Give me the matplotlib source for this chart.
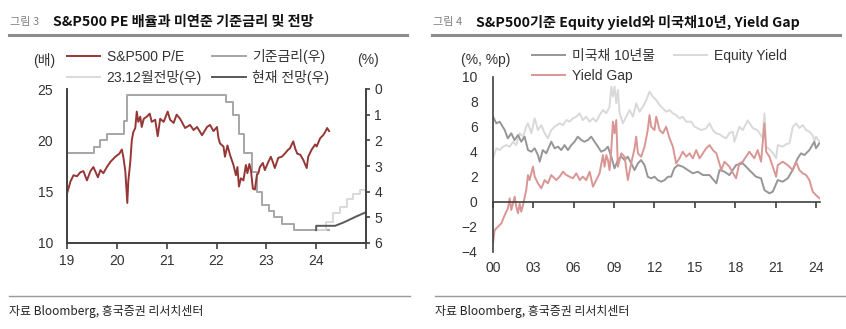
import matplotlib
matplotlib.use('Agg')
import matplotlib.pyplot as plt
from matplotlib.lines import Line2D

plt.rcParams['font.family'] = ['Liberation Sans', 'Noto Sans CJK KR']
plt.rcParams['axes.unicode_minus'] = True

# ---- left chart: S&P500 P/E vs fed funds (upper bound), decimal years ----
pe_x = [2019.00, 2019.07, 2019.13, 2019.20, 2019.27, 2019.33, 2019.40, 2019.47, 2019.53, 2019.62,
        2019.67, 2019.73, 2019.80, 2019.87, 2019.97, 2020.05, 2020.10, 2020.13, 2020.17, 2020.21,
        2020.23, 2020.27, 2020.30, 2020.33, 2020.37, 2020.40, 2020.43, 2020.47, 2020.50, 2020.54,
        2020.60, 2020.66, 2020.70, 2020.77, 2020.82, 2020.87, 2020.94, 2021.02, 2021.07, 2021.14,
        2021.20, 2021.27, 2021.37, 2021.47, 2021.54, 2021.61, 2021.71, 2021.81, 2021.87, 2021.94,
        2022.01, 2022.04, 2022.07, 2022.14, 2022.17, 2022.22, 2022.27, 2022.34, 2022.39, 2022.42,
        2022.45, 2022.49, 2022.54, 2022.59, 2022.62, 2022.66, 2022.69, 2022.73, 2022.77, 2022.81,
        2022.84, 2022.87, 2022.93, 2022.97, 2023.04, 2023.09, 2023.13, 2023.17, 2023.24, 2023.31,
        2023.37, 2023.44, 2023.47, 2023.54, 2023.58, 2023.62, 2023.68, 2023.74, 2023.81, 2023.84,
        2023.91, 2023.98, 2024.01, 2024.08, 2024.14, 2024.18, 2024.22, 2024.26]
pe_y = [14.8, 16.0, 16.6, 16.5, 16.9, 17.0, 16.1, 17.0, 17.4, 16.4,
        17.1, 16.8, 17.4, 17.9, 18.4, 18.7, 19.1, 18.4, 17.0, 13.9,
        16.0, 17.9, 20.0, 20.8, 21.2, 22.8, 21.8, 22.3, 21.3, 22.1,
        22.3, 22.6, 21.8, 22.0, 20.4, 22.1, 21.8, 22.8, 22.0, 21.7,
        22.5, 22.1, 21.2, 21.5, 21.0, 21.3, 20.5, 21.3, 21.5, 20.9,
        21.3, 20.2, 19.7, 19.4, 18.4, 19.5, 18.6, 17.6, 16.6, 17.4,
        15.5, 16.3, 16.1, 17.6, 16.8, 17.7, 17.1, 15.3, 15.2, 16.6,
        16.8, 17.4, 17.8, 17.1, 17.9, 18.4, 17.9, 17.3, 18.3, 18.4,
        18.7, 19.1, 19.2, 19.9, 19.2, 18.7, 18.6, 18.1, 17.3, 18.4,
        19.1, 19.6, 19.4, 20.2, 20.5, 20.8, 21.2, 20.9]

fed_x = [2019.00, 2019.55, 2019.67, 2019.81, 2020.15, 2020.20, 2022.19, 2022.34, 2022.46,
         2022.56, 2022.71, 2022.81, 2022.92, 2023.05, 2023.15, 2023.31, 2023.56, 2024.26]
fed_y = [2.50, 2.25, 2.00, 1.75, 1.25, 0.25, 0.50, 1.00, 1.75,
         2.50, 3.25, 4.00, 4.50, 4.75, 5.00, 5.25, 5.50, 5.50]

dec23_x = [2024.03, 2024.20, 2024.33, 2024.47, 2024.61, 2024.73, 2024.87, 2025.00]
dec23_y = [5.50, 5.20, 4.85, 4.60, 4.30, 4.10, 3.95, 3.80]

now_x = [2024.00, 2024.00, 2024.38, 2024.55, 2024.80, 2025.00]
now_y = [5.50, 5.33, 5.33, 5.20, 4.97, 4.80]

# ---- right chart: 10y UST, equity yield, yield gap ----
ust_x = [2000.00, 2000.25, 2000.50, 2000.87, 2001.10, 2001.36, 2001.60, 2001.86, 2002.10, 2002.35,
         2002.60, 2002.85, 2003.10, 2003.34, 2003.47, 2003.70, 2003.96, 2004.33, 2004.58, 2004.83,
         2005.07, 2005.32, 2005.57, 2005.82, 2006.06, 2006.30, 2006.56, 2006.80, 2007.05, 2007.30,
         2007.55, 2007.80, 2008.04, 2008.30, 2008.54, 2008.79, 2009.03, 2009.28, 2009.53, 2009.78,
         2010.02, 2010.27, 2010.52, 2010.77, 2011.00, 2011.26, 2011.50, 2011.75, 2012.00, 2012.25,
         2012.50, 2012.75, 2013.00, 2013.24, 2013.47, 2013.74, 2014.10, 2014.48, 2014.85, 2015.22,
         2015.60, 2016.09, 2016.60, 2016.83, 2017.20, 2017.57, 2018.06, 2018.56, 2019.05, 2019.54,
         2019.92, 2020.17, 2020.54, 2020.79, 2021.16, 2021.53, 2021.90, 2022.27, 2022.64, 2022.89,
         2023.14, 2023.51, 2023.88, 2024.00, 2024.25]
ust_y = [6.80, 6.27, 6.40, 5.73, 5.07, 5.47, 4.93, 5.33, 4.80, 5.20,
         4.13, 4.00, 4.27, 3.73, 3.20, 4.13, 3.87, 4.80, 4.27, 4.40,
         4.13, 4.53, 4.13, 4.53, 4.80, 5.20, 4.93, 4.80, 4.93, 5.20,
         4.80, 4.40, 4.00, 4.13, 4.40, 3.60, 2.67, 3.33, 3.60, 3.33,
         3.60, 3.07, 2.53, 3.07, 3.33, 2.93, 2.00, 1.87, 2.00, 1.73,
         1.60, 1.73, 2.00, 2.00, 2.67, 2.93, 2.80, 2.53, 2.27, 2.40,
         2.13, 2.13, 1.47, 2.53, 2.40, 2.13, 2.93, 3.07, 2.53, 2.00,
         1.87, 0.93, 0.67, 0.80, 1.73, 1.60, 1.87, 2.53, 3.47, 3.87,
         3.73, 4.13, 4.80, 4.27, 4.67]

ey_x = [2000.00, 2000.25, 2000.50, 2000.74, 2000.99, 2001.24, 2001.49, 2001.73, 2001.98, 2002.23,
        2002.47, 2002.60, 2002.85, 2003.10, 2003.34, 2003.59, 2003.84, 2004.08, 2004.33, 2004.58,
        2004.95, 2005.20, 2005.45, 2005.69, 2005.94, 2006.19, 2006.44, 2006.68, 2006.93, 2007.18,
        2007.43, 2007.67, 2007.92, 2008.17, 2008.42, 2008.66, 2008.79, 2008.91, 2009.03, 2009.16,
        2009.28, 2009.41, 2009.65, 2009.90, 2010.15, 2010.40, 2010.64, 2010.89, 2011.14, 2011.39,
        2011.63, 2011.88, 2012.13, 2012.38, 2012.62, 2012.87, 2013.12, 2013.37, 2013.61, 2013.86,
        2014.10, 2014.36, 2014.73, 2014.98, 2015.22, 2015.47, 2015.84, 2016.09, 2016.34, 2016.58,
        2016.83, 2017.08, 2017.33, 2017.57, 2017.82, 2017.94, 2018.31, 2018.56, 2018.93, 2019.30,
        2019.67, 2020.04, 2020.17, 2020.30, 2020.54, 2020.79, 2021.04, 2021.16, 2021.53, 2021.78,
        2022.03, 2022.28, 2022.52, 2022.77, 2023.02, 2023.27, 2023.51, 2023.76, 2023.89, 2024.00,
        2024.26]
ey_y = [3.47, 4.27, 4.13, 4.40, 4.53, 4.40, 4.80, 4.53, 5.47, 5.20,
        6.00, 6.27, 5.47, 6.67, 5.73, 6.13, 5.47, 5.07, 5.73, 6.00,
        6.27, 6.13, 6.53, 6.40, 6.67, 6.80, 7.07, 6.53, 6.80, 6.40,
        6.67, 6.40, 6.93, 7.33, 7.07, 7.60, 9.20, 8.40, 9.20, 7.87,
        8.93, 7.07, 6.27, 6.80, 7.33, 6.80, 7.87, 7.20, 7.60, 8.13,
        8.80, 8.40, 8.13, 7.73, 7.47, 7.20, 7.33, 7.07, 6.93, 6.67,
        6.80, 6.40, 6.40, 6.00, 5.87, 5.73, 5.87, 6.27, 5.73, 5.47,
        5.40, 5.20, 5.07, 5.50, 5.60, 4.80, 6.00, 5.73, 6.50, 5.90,
        5.70, 5.10, 7.07, 4.40, 4.20, 3.90, 3.47, 4.53, 4.40, 4.60,
        4.67, 6.00, 6.27, 5.90, 6.13, 5.73, 5.60, 5.30, 4.90, 5.20,
        4.80]

gap_x = [2000.00, 2000.12, 2000.37, 2000.62, 2000.87, 2001.11, 2001.24, 2001.36, 2001.61, 2001.73,
         2001.86, 2001.98, 2002.10, 2002.23, 2002.47, 2002.60, 2002.72, 2002.97, 2003.10, 2003.34,
         2003.59, 2003.84, 2004.08, 2004.33, 2004.70, 2004.95, 2005.20, 2005.45, 2005.69, 2005.94,
         2006.19, 2006.44, 2006.68, 2006.93, 2007.18, 2007.43, 2007.67, 2007.92, 2008.17, 2008.29,
         2008.42, 2008.54, 2008.66, 2008.79, 2008.91, 2009.03, 2009.16, 2009.28, 2009.53, 2009.78,
         2009.90, 2010.02, 2010.27, 2010.52, 2010.64, 2010.77, 2011.01, 2011.26, 2011.50, 2011.63,
         2011.75, 2012.00, 2012.13, 2012.38, 2012.62, 2012.87, 2013.12, 2013.37, 2013.61, 2013.86,
         2014.10, 2014.36, 2014.61, 2014.85, 2015.10, 2015.35, 2015.84, 2016.09, 2016.34, 2016.60,
         2016.97, 2017.20, 2017.57, 2018.06, 2018.31, 2018.56, 2018.80, 2019.05, 2019.42, 2019.67,
         2019.92, 2020.17, 2020.30, 2020.54, 2020.79, 2021.04, 2021.16, 2021.53, 2021.90, 2022.27,
         2022.52, 2022.77, 2023.02, 2023.27, 2023.51, 2023.76, 2024.00, 2024.13, 2024.26]
gap_y = [-3.33, -2.27, -2.00, -1.73, -1.07, -0.53, 0.27, -0.67, 0.40, -0.40,
         -0.93, -0.13, -0.80, -0.27, 0.93, 2.13, 1.73, 2.80, 2.00, 1.47,
         1.07, 1.73, 1.47, 2.13, 1.73, 2.00, 2.40, 2.13, 2.00, 1.87,
         2.27, 1.73, 2.00, 1.73, 2.40, 1.20, 1.73, 2.27, 3.73, 2.80,
         3.73, 3.33, 2.53, 4.13, 6.40, 5.47, 6.53, 2.80, 3.87, 3.60,
         2.67, 1.73, 3.07, 4.27, 5.20, 3.87, 3.60, 4.40, 5.73, 6.93,
         6.00, 5.73, 6.80, 5.73, 5.47, 6.00, 5.07, 4.40, 3.07, 3.47,
         4.00, 3.60, 3.87, 3.47, 4.13, 3.47, 4.27, 4.53, 4.13, 3.87,
         2.53, 3.20, 2.80, 1.87, 3.07, 3.20, 3.60, 4.00, 3.47, 4.13,
         3.20, 6.27, 4.00, 3.60, 2.80, 2.00, 2.93, 3.20, 2.93, 2.53,
         3.20, 2.53, 2.27, 2.13, 1.73, 0.80, 0.53, 0.40, 0.27]

left_xticks = [2019, 2020, 2021, 2022, 2023, 2024, 2025]
left_xlabels = ['19', '20', '21', '22', '23', '24', '']
right_xticks = [2000, 2003, 2006, 2009, 2012, 2015, 2018, 2021, 2024]
right_xlabels = ['00', '03', '06', '09', '12', '15', '18', '21', '24']

W, H = 846, 329
fig = plt.figure(figsize=(W / 100, H / 100), dpi=100)
tick_c = '#333333'
spine_c = '#404040'


def fx(px):
    return px / W


def fy(py):
    return 1 - py / H


# ---------------- left chart ----------------
ax1 = fig.add_axes([fx(67), fy(243), fx(366) - fx(67), fy(89) - fy(243)])
ax1r = ax1.twinx()
ax1.set_zorder(ax1r.get_zorder() + 1)
ax1.patch.set_visible(False)

l_pe, = ax1.plot(pe_x, pe_y, color='#953735', lw=1.4, label='S&P500 P/E')
l_fed, = ax1r.plot(fed_x, fed_y, color='#a6a6a6', lw=1.4, drawstyle='steps-post', label='기준금리(우)')
l_dec, = ax1r.plot(dec23_x, dec23_y, color='#d9d9d9', lw=1.4, drawstyle='steps-post', label='23.12월전망(우)')
l_now, = ax1r.plot(now_x, now_y, color='#595959', lw=1.4, label='현재 전망(우)')

ax1.set_xlim(2019, 2025)
ax1.set_ylim(10, 25)
ax1.set_yticks([10, 15, 20, 25])
ax1.set_xticks(left_xticks)
ax1.set_xticklabels(left_xlabels)
ax1r.set_ylim(6, 0)
ax1r.set_yticks(range(0, 7))

for a in (ax1, ax1r):
    a.spines['top'].set_visible(False)
    for s in ('left', 'right', 'bottom'):
        a.spines[s].set_color(spine_c)
        a.spines[s].set_linewidth(1.2)
ax1.tick_params(axis='y', length=0, pad=10, labelsize=10, labelcolor=tick_c)
ax1.tick_params(axis='x', length=4, width=1.2, color=spine_c, pad=4, labelsize=10, labelcolor=tick_c)
ax1r.tick_params(axis='y', length=3, width=1.2, color=spine_c, pad=3, labelsize=10, labelcolor=tick_c)

fig.text(fx(44), fy(60), '(배)', fontsize=10, color=tick_c, ha='center', va='center')
fig.text(fx(368), fy(60), '(%)', fontsize=10, color=tick_c, ha='center', va='center')
fig.legend(handles=[l_pe, l_dec, l_fed, l_now], ncol=2, loc='upper left',
           bbox_to_anchor=(fx(67), fy(49)), frameon=False, fontsize=10,
           handlelength=2.4, handletextpad=0.45, columnspacing=0.75,
           labelspacing=0.4, borderpad=0, borderaxespad=0, labelcolor=tick_c)

# ---------------- right chart ----------------
ax2 = fig.add_axes([fx(493), fy(251.7), fx(820) - fx(493), fy(76.7) - fy(251.7)])
l_ey, = ax2.plot(ey_x, ey_y, color='#d9d9d9', lw=1.4, label='Equity Yield')
l_ust, = ax2.plot(ust_x, ust_y, color='#969696', lw=1.4, label='미국채 10년물')
l_gap, = ax2.plot(gap_x, gap_y, color='#d99694', lw=1.4, label='Yield Gap')

ax2.set_xlim(2000, 2024.3)
ax2.set_ylim(-4, 10)
ax2.set_yticks(range(-4, 11, 2))
ax2.spines['top'].set_visible(False)
ax2.spines['right'].set_visible(False)
ax2.spines['bottom'].set_position(('data', 0))
for s in ('left', 'bottom'):
    ax2.spines[s].set_color(spine_c)
    ax2.spines[s].set_linewidth(1.2)
ax2.set_xticks(right_xticks)
ax2.tick_params(axis='x', length=4, width=1.2, color=spine_c, labelbottom=False)
ax2.tick_params(axis='y', length=0, pad=11, labelsize=10, labelcolor=tick_c)

sec = ax2.secondary_xaxis('bottom')
sec.set_xticks(right_xticks)
sec.set_xticklabels(right_xlabels)
sec.spines['bottom'].set_visible(False)
sec.tick_params(length=0, pad=7, labelsize=10, labelcolor=tick_c)

fig.text(fx(486), fy(60), '(%, %p)', fontsize=10, color=tick_c, ha='center', va='center')
fig.legend(handles=[l_ust, l_gap, l_ey], ncol=2, loc='upper left',
           bbox_to_anchor=(fx(532), fy(49)), frameon=False, fontsize=10,
           handlelength=2.4, handletextpad=0.45, columnspacing=1.4,
           labelspacing=0.4, borderpad=0, borderaxespad=0, labelcolor=tick_c)

# ---------------- titles and footers ----------------
for x0, x1, num, title in [(9, 407, '그림 3', 'S&P500 PE 배율과 미연준 기준금리 및 전망'),
                           (432, 840, '그림 4', 'S&P500기준 Equity yield와 미국채10년, Yield Gap')]:
    fig.text(fx(x0 + 1), fy(22), num, fontsize=8, color='#808080', va='center',
             family=['Noto Sans CJK KR'])
    fig.text(fx(x0 + 44), fy(22), title, fontsize=10.2, color='#111111', va='center',
             fontweight='bold', family=['Noto Sans CJK KR'])
    fig.add_artist(Line2D([fx(x0), fx(x1)], [fy(35), fy(35)], color='#8c8c8c', lw=2.2))

for x0, x1 in [(9, 410), (435, 846)]:
    fig.add_artist(Line2D([fx(x0), fx(x1)], [fy(296), fy(296)], color='#999999', lw=1.0))
    fig.text(fx(x0), fy(311), '자료 Bloomberg, 흥국증권 리서치센터', fontsize=8.6, color='#222222',
             va='center', family=['Noto Sans CJK KR'])

fig.savefig('out.png', dpi=100)
